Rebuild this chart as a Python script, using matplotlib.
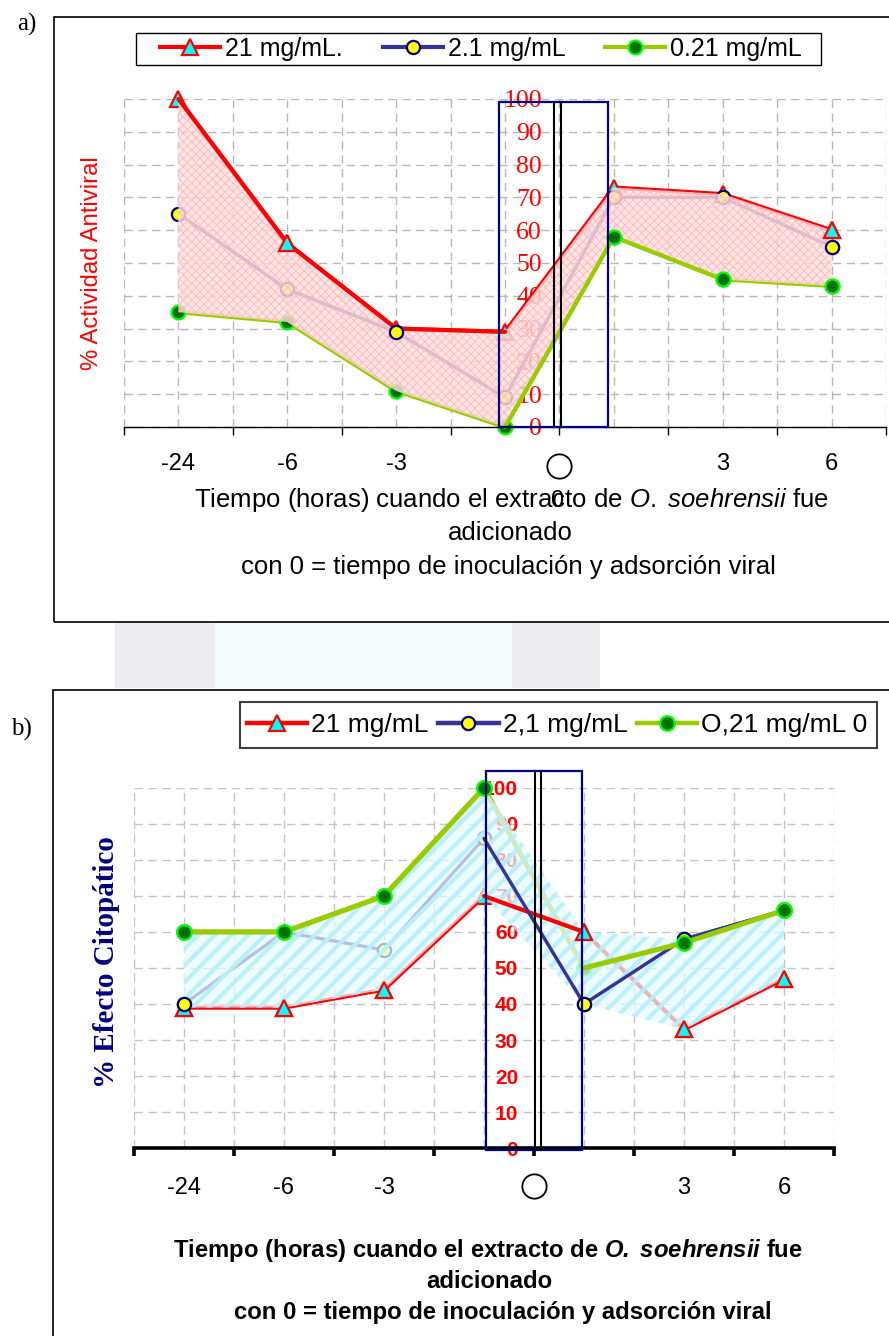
import numpy as np
import matplotlib
matplotlib.use("Agg")
import matplotlib.pyplot as plt
from matplotlib.patches import Rectangle
from matplotlib.lines import Line2D
from matplotlib.transforms import blended_transform_factory

plt.rcParams["font.family"] = ["Liberation Sans", "DejaVu Sans"]
plt.rcParams["mathtext.fontset"] = "custom"
plt.rcParams["mathtext.rm"] = "Liberation Sans"
plt.rcParams["mathtext.it"] = "Liberation Sans:italic"
plt.rcParams["mathtext.bf"] = "Liberation Sans:bold"
plt.rcParams["mathtext.bfit"] = "Liberation Sans:bold:italic"

W, H, DPI = 889, 1336, 100

# ---------------- data ----------------
categories = ["-24", "-6", "-3", "", "", "3", "6"]
zero_label = "0"
y_ticks = list(range(0, 101, 10))

labels_a = ["21 mg/mL.", "2.1 mg/mL", "0.21 mg/mL"]
antiviral_21 = [100, 56, 30, 29, 73, 71, 60]
antiviral_2_1 = [65, 42, 29, 9, 70, 70, 55]
antiviral_0_21 = [35, 32, 11, 0, 58, 45, 43]

labels_b = ["21 mg/mL", "2,1 mg/mL", "O,21 mg/mL 0"]
cpe_21 = [39, 39, 44, 70, 60, 33, 47]
cpe_2_1 = [40, 60, 55, 86, 40, 58, 66]
cpe_0_21 = [60, 60, 70, 100, 50, 57, 66]

x = np.arange(len(categories))
axis_cross = 3.5  # vertical axis sits between the 4th and 5th category

RED = dict(color="#ff0000", marker="^", mfc="#00ffff", mec="#ff0000")
BLUE = dict(color="#333399", marker="o", mfc="#ffff00", mec="#000080")
GREEN = dict(color="#99cc00", marker="o", mfc="#007000", mec="#00ff00")

fig = plt.figure(figsize=(W / DPI, H / DPI), dpi=DPI)


def px_axes(left, top, right, bottom):
    return fig.add_axes([left / W, 1 - bottom / H, (right - left) / W, (bottom - top) / H])


def px(xp, yp):
    return xp / W, 1 - yp / H


def draw_line(ax, y, st, lw, sl=slice(None), z=2):
    ys = np.asarray(y, dtype=float)
    ax.plot(x[sl], ys[sl], color=st["color"], lw=lw, zorder=z, clip_on=False,
            solid_joinstyle="round", solid_capstyle="round")


def draw_marks(ax, y, st, idx, ms, mew, z=2):
    ys = np.asarray(y, dtype=float)
    idx = list(idx)
    ax.plot(x[idx], ys[idx], ls="none", marker=st["marker"], mfc=st["mfc"],
            mec=st["mec"], ms=ms, mew=mew, zorder=z, clip_on=False)


def overlay(ax, series, face, hatch, hatch_color, hatch_lw):
    arr = np.array(series, dtype=float)
    with plt.rc_context({"hatch.linewidth": hatch_lw, "hatch.color": hatch_color}):
        coll = ax.fill_between(x, arr.min(axis=0), arr.max(axis=0), facecolor=face,
                               edgecolor=hatch_color, hatch=hatch, linewidth=0,
                               zorder=3, clip_on=False)
        if hasattr(coll, "set_hatch_linewidth"):
            coll.set_hatch_linewidth(hatch_lw)
    return coll


def setup_axes(ax, spine_lw, tick_pad, ylab_font, ylab_weight, ylab_size, ylab_pad, grid_color):
    ax.spines["left"].set_position(("data", axis_cross))
    ax.spines["left"].set_visible(False)
    ax.spines["right"].set_visible(False)
    ax.spines["top"].set_visible(False)
    ax.spines["bottom"].set_linewidth(spine_lw)
    ax.spines["bottom"].set_zorder(5)
    ax.set_xlim(-0.5, len(categories) - 0.5)
    ax.set_ylim(0, 100)
    ax.set_xticks(x)
    ax.set_xticklabels(categories, fontsize=17)
    ax.set_xticks(np.arange(-0.5, len(categories)), minor=True)
    ax.tick_params(axis="x", which="major", length=0, pad=tick_pad)
    ax.tick_params(axis="x", which="minor", length=6, width=spine_lw, direction="out")
    ax.set_yticks(y_ticks)
    ax.tick_params(axis="y", which="both", length=0, pad=ylab_pad, labelcolor="red",
                   labelsize=ylab_size, labelfontfamily=ylab_font)
    for tick in ax.yaxis.get_major_ticks():
        tick.label1.set_fontweight(ylab_weight)
        tick.label1.set_fontfamily(ylab_font)
    ax.grid(True, axis="x", which="both", color=grid_color, lw=1, ls=(0, (6, 4)))
    ax.grid(True, axis="y", which="major", color=grid_color, lw=1, ls=(0, (6, 4)))
    ax.set_axisbelow(True)
    ax.patch.set_alpha(0)


def zero_circle(ax, yfrac):
    tr = blended_transform_factory(ax.transData, ax.transAxes)
    ax.plot([axis_cross], [yfrac], transform=tr, marker="o", ms=17.5, mfc="white",
            mec="black", mew=1.3, clip_on=False, zorder=6)


def legend_box(handles, labels, box, edge, lw, **kw):
    x0, y0, x1, y1 = box
    fig.add_artist(Rectangle(px(x0, y1), (x1 - x0) / W, (y1 - y0) / H,
                             transform=fig.transFigure, fc="white", ec=edge, lw=lw,
                             zorder=4))
    leg = fig.legend(handles, labels, loc="center", ncol=3, frameon=False,
                     borderpad=0, borderaxespad=0, numpoints=1, **kw)
    leg.set_zorder(5)
    return leg


# ---------------- outer frames and watermark ----------------
fig.add_artist(Rectangle(px(54, 622), 1.0, (622 - 17) / H, transform=fig.transFigure,
                         fill=False, ec="black", lw=1.2))
fig.add_artist(Rectangle(px(53, 1400), 1.0, (1400 - 690) / H, transform=fig.transFigure,
                         fill=False, ec="black", lw=1.2))
for x0, x1, col in [(115, 215, "#d2d2dc"), (215, 512, "#dff3f6"), (512, 600, "#d2d2dc")]:
    fig.add_artist(Rectangle(px(x0, 688), (x1 - x0) / W, (688 - 623) / H,
                             transform=fig.transFigure, fc=col, ec="none", alpha=0.4))

fig.text(*px(27, 24), "a)", family="Liberation Serif", fontsize=18, ha="center", va="center")
fig.text(*px(21, 729), "b)", family="Liberation Serif", fontsize=18, ha="center", va="center")

# ---------------- panel a: antiviral activity ----------------
ax_a = px_axes(124, 99, 886, 427)
setup_axes(ax_a, 1.0, 19, "Liberation Serif", "normal", 18.5, 12.5, "#b8b8b8")

series_a = [(antiviral_21, RED, 3.0, 11), (antiviral_2_1, BLUE, 2.5, 9.5),
            (antiviral_0_21, GREEN, 3.0, 10)]
for y, st, lw, ms in series_a:
    draw_line(ax_a, y, st, lw)
    draw_marks(ax_a, y, st, range(len(x)), ms, 1.6)

overlay(ax_a, [s[0] for s in series_a], (1.0, 0.88, 0.88, 0.8), "xxxx",
        (1.0, 0.72, 0.72, 0.85), 0.8)

draw_line(ax_a, antiviral_21, RED, 3.0, slice(0, 4), z=4)
draw_marks(ax_a, antiviral_21, RED, [1, 6], 11, 1.6, z=4)
draw_line(ax_a, antiviral_0_21, GREEN, 3.0, slice(3, 6), z=4)
draw_marks(ax_a, antiviral_0_21, GREEN, [4, 5, 6], 10, 1.6, z=4)
draw_marks(ax_a, antiviral_2_1, BLUE, [2, 6], 9.5, 1.6, z=4)

ax_a.add_patch(Rectangle((2.945, 0), 1.0, 99, fill=False, ec="#000080", lw=1.6,
                         zorder=6, clip_on=False))
ax_a.plot([3.45, 3.45], [0, 99], color="black", lw=1.5, zorder=6, clip_on=False)
ax_a.plot([3.515, 3.515], [0, 99], color="black", lw=1.5, zorder=6, clip_on=False)
zero_circle(ax_a, -0.119)
fig.text(*px(557, 501), zero_label, fontsize=17, ha="center", va="center")

fig.text(*px(92, 263), "% Actividad Antiviral", color="red", fontsize=17.2, rotation=90,
         ha="center", va="center")
fig.text(*px(511, 500), r"Tiempo (horas) cuando el extracto de $\mathit{O.\ soehrensii}$ fue",
         fontsize=18.5, ha="center", va="center")
fig.text(*px(510, 533), "adicionado", fontsize=18.5, ha="center", va="center")
fig.text(*px(508, 567), "con 0 = tiempo de inoculación y adsorción viral", fontsize=18.5,
         ha="center", va="center")

leg_a = legend_box(
    [Line2D([], [], color=st["color"], lw=3, marker=st["marker"], mfc=st["mfc"],
            mec=st["mec"], ms=ms, mew=1.6) for _, st, _, ms in series_a],
    labels_a, (136, 33, 821, 65), "black", 1.0,
    bbox_to_anchor=px(481, 49), fontsize=18, handlelength=2.4,
    handletextpad=0.2, columnspacing=1.6)

# ---------------- panel b: cytopathic effect ----------------
ax_b = px_axes(134, 788, 834, 1148)
setup_axes(ax_b, 2.6, 21, "Liberation Sans", "bold", 15, 11.5, "#c4c4c4")

series_b = [(cpe_21, RED, 3.0, 11), (cpe_2_1, BLUE, 2.4, 9.5), (cpe_0_21, GREEN, 3.6, 10.5)]
for y, st, lw, ms in series_b:
    draw_line(ax_b, y, st, lw)
    draw_marks(ax_b, y, st, range(len(x)), ms, 1.6)

overlay(ax_b, [s[0] for s in series_b], (0.90, 0.985, 1.0, 0.72), "//",
        (0.72, 0.94, 0.98, 0.95), 3.0)

draw_line(ax_b, cpe_21, RED, 3.0, slice(3, 5), z=4)
draw_marks(ax_b, cpe_21, RED, [0, 1, 2, 4, 5, 6], 11, 1.6, z=4)
draw_line(ax_b, cpe_2_1, BLUE, 2.4, slice(3, 7), z=4)
draw_marks(ax_b, cpe_2_1, BLUE, [0, 4, 5], 9.5, 1.6, z=4)
draw_line(ax_b, cpe_0_21, GREEN, 3.6, slice(0, 4), z=4)
draw_line(ax_b, cpe_0_21, GREEN, 3.6, slice(4, 7), z=4)
draw_marks(ax_b, cpe_0_21, GREEN, [0, 1, 2, 3, 5, 6], 10.5, 1.6, z=4)

ax_b.add_patch(Rectangle((3.02, -0.5), 0.96, 105.2, fill=False, ec="#000080", lw=1.6,
                         zorder=6, clip_on=False))
ax_b.plot([3.51, 3.51], [-0.5, 104.7], color="black", lw=1.5, zorder=6, clip_on=False)
ax_b.plot([3.57, 3.57], [-0.5, 104.7], color="black", lw=1.5, zorder=6, clip_on=False)
zero_circle(ax_b, -0.106)

fig.text(*px(107, 962), "% Efecto Citopático", color="#000080", family="Liberation Serif",
         fontweight="bold", fontsize=21, rotation=90, ha="center", va="center")
fig.text(*px(488, 1250),
         r"Tiempo (horas) cuando el extracto de $\mathbfit{O.}$ $\mathbfit{soehrensii}$ fue",
         fontsize=17.2, fontweight="bold", ha="center", va="center")
fig.text(*px(489, 1282), "adicionado", fontsize=17.2, fontweight="bold", ha="center",
         va="center")
fig.text(*px(503, 1313), "con 0 = tiempo de inoculación y adsorción viral", fontsize=17.2,
         fontweight="bold", ha="center", va="center")

leg_b = legend_box(
    [Line2D([], [], color=st["color"], lw=3.2, marker=st["marker"], mfc=st["mfc"],
            mec=st["mec"], ms=ms, mew=1.6) for _, st, _, ms in series_b],
    labels_b, (240, 702, 877, 748), "#404040", 1.5,
    bbox_to_anchor=px(557, 725), fontsize=19, handlelength=2.3,
    handletextpad=0.15, columnspacing=0.35)

fig.savefig("out.png", dpi=DPI)
